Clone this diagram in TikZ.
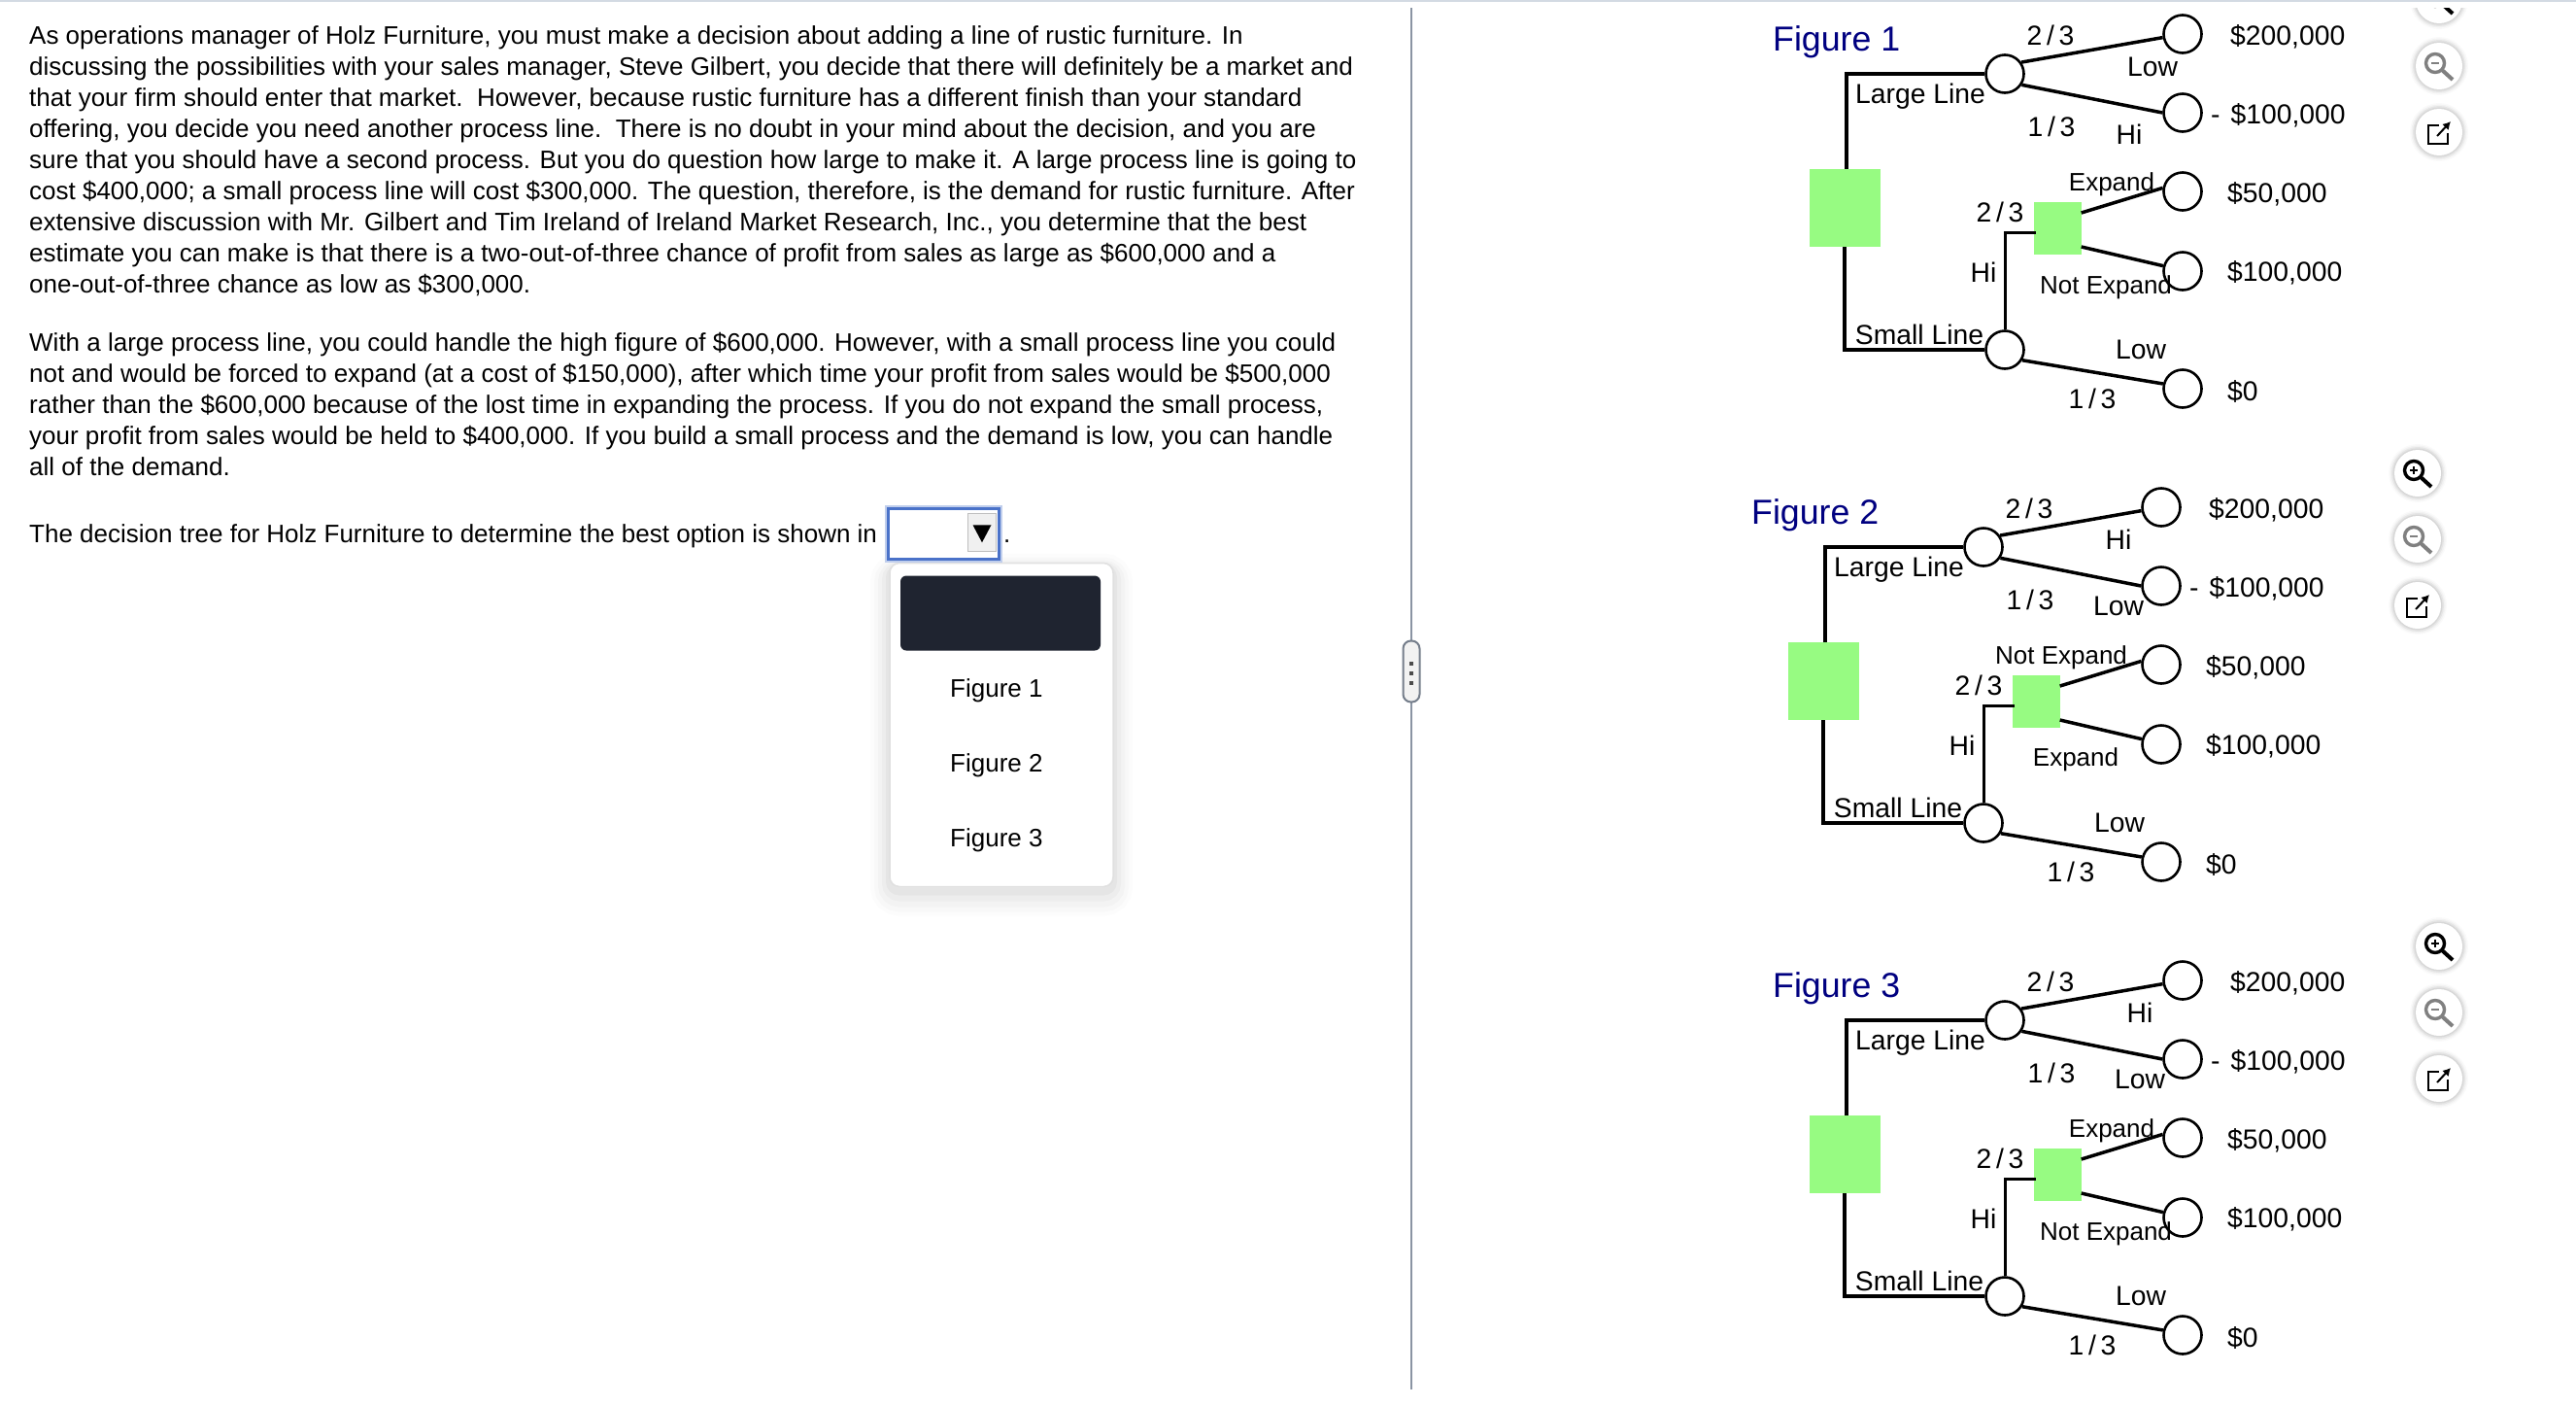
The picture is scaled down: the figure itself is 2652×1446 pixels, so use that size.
\documentclass[tikz,border=0pt]{standalone}
\usepackage{fontspec}
\setmainfont{Liberation Sans}
\usepackage{tikz}
\usetikzlibrary{
  arrows.meta,
  calc,
  shapes.geometric
}

\definecolor{treegreen}{HTML}{97FB82}
\definecolor{titleblue}{HTML}{000080}
\definecolor{selblue}{HTML}{4A72C9}
\definecolor{darkrow}{HTML}{1F2430}
\definecolor{divgray}{HTML}{8A94A3}
\definecolor{topgray}{HTML}{D3DAE3}

\begin{document}
\begin{tikzpicture}[x=1pt, y=-1pt]

\tikzset{
  body/.style={
    anchor=north west,
    inner sep=0pt,
    align=left,
    font=\fontsize{26}{32.05}\selectfont
  },
  menuitem/.style={
    anchor=west,
    inner sep=0pt,
    font=\fontsize{26}{30}\selectfont
  },
  figtitle/.style={
    anchor=west,
    inner sep=0pt,
    text=titleblue,
    font=\fontsize{35.7}{40}\selectfont
  },
  lbl/.style={
    inner sep=0pt,
    font=\fontsize{28.3}{32}\selectfont
  },
  lblsm/.style={
    inner sep=0pt,
    font=\fontsize{26}{32}\selectfont
  },
  val/.style={
    lbl,
    anchor=west
  },
  chance/.style={
    draw,
    circle,
    fill=white,
    line width=2.6pt,
    minimum size=39pt,
    inner sep=0pt
  },
  rootbox/.style={
    rectangle,
    fill=treegreen,
    minimum width=73pt,
    minimum height=80pt,
    inner sep=0pt
  },
  choicebox/.style={
    rectangle,
    fill=treegreen,
    minimum width=49pt,
    minimum height=54pt,
    inner sep=0pt
  },
  edge/.style={
    draw,
    line width=3.5pt
  },
  iconbtn/.style={
    circle,
    fill=white,
    minimum size=48pt,
    inner sep=0pt,
    preaction={draw=black, draw opacity=.02, line width=12pt},
    preaction={draw=black, draw opacity=.03, line width=9pt},
    preaction={draw=black, draw opacity=.05, line width=6pt},
    preaction={draw=black, draw opacity=.06, line width=3pt}
  },
  menubox/.style={
    draw=black!12,
    line width=1.5pt,
    fill=white,
    rounded corners=10pt,
    inner sep=0pt,
    preaction={draw=black, draw opacity=.012, line width=40pt, transform canvas={yshift=-10pt}},
    preaction={draw=black, draw opacity=.015, line width=32pt, transform canvas={yshift=-10pt}},
    preaction={draw=black, draw opacity=.02, line width=24pt, transform canvas={yshift=-9pt}},
    preaction={draw=black, draw opacity=.025, line width=16pt, transform canvas={yshift=-7pt}},
    preaction={draw=black, draw opacity=.03, line width=8pt, transform canvas={yshift=-5pt}}
  },
  lensin/.pic={
    \node[iconbtn] (btn) at (0,0) {};
    \draw[line width=3.4pt] (-4,-3) circle (9.5);
    \draw[line width=4pt] (3,4) -- (14,14);
    \draw[line width=1.6pt] (-8,-3) -- (0,-3) (-4,-7) -- (-4,1);
  },
  lensout/.pic={
    \node[iconbtn] (btn) at (0,0) {};
    \draw[gray, line width=3.4pt] (-4,-3) circle (9.5);
    \draw[gray, line width=4pt] (3,4) -- (14,14);
    \draw[gray, line width=1.6pt] (-8,-3) -- (0,-3);
  },
  popout/.pic={
    \node[iconbtn] (btn) at (0,0) {};
    \draw[line width=1.8pt] (0,-7) -- (-11,-7) -- (-11,12) -- (9,12) -- (9,1);
    \draw[-{Latex[length=8pt, width=9pt]}, line width=2pt] (-2,4) -- (12,-11);
  }
}

% Background
\path[fill=white, use as bounding box] (0,0) rectangle (2652,1446);
\fill[topgray] (0,0) rectangle (2652,2);

% Question text
\node[body] (parA) at (30,26) {As operations manager of Holz Furniture, you must make a decision about adding a line of rustic furniture. In\\
discussing the possibilities with your sales manager, Steve Gilbert, you decide that there will definitely be a market and\\
that your firm should enter that market.\ \ However, because rustic furniture has a different finish than your standard\\
offering, you decide you need another process line.\ \ There is no doubt in your mind about the decision, and you are\\
sure that you should have a second process. But you do question how large to make it. A large process line is going to\\
cost \$400,000; a small process line will cost \$300,000. The question, therefore, is the demand for rustic furniture. After\\
extensive discussion with Mr. Gilbert and Tim Ireland of Ireland Market Research, Inc., you determine that the best\\
estimate you can make is that there is a two-out-of-three chance of profit from sales as large as \$600,000 and a\\
one-out-of-three chance as low as \$300,000.};

\node[body] (parB) at (30,342) {With a large process line, you could handle the high figure of \$600,000. However, with a small process line you could\\
not and would be forced to expand (at a cost of \$150,000), after which time your profit from sales would be \$500,000\\
rather than the \$600,000 because of the lost time in expanding the process. If you do not expand the small process,\\
your profit from sales would be held to \$400,000. If you build a small process and the demand is low, you can handle\\
all of the demand.};

\node[body] (ask) at (30,539) {The decision tree for Holz Furniture to determine the best option is shown in};

% Menu
\node[menubox, minimum width=230pt, minimum height=333pt] (menu) at (1031,746) {};
\node[fill=darkrow, rounded corners=6pt, minimum width=206pt, minimum height=77pt, inner sep=0pt] (menutop) at (1030,631) {};
\node[menuitem] (item1) at (978,711) {Figure 1};
\node[menuitem] (item2) at (978,788) {Figure 2};
\node[menuitem] (item3) at (978,865) {Figure 3};

% Dropdown
\node[draw=selblue, line width=3pt, preaction={draw=selblue!35, line width=7pt}, fill=white, minimum width=114pt, minimum height=52pt, inner sep=0pt] (drop) at (971,549) {};
\node[draw=black!25, line width=1.5pt, fill=black!6, minimum width=29pt, minimum height=39pt, inner sep=0pt] (dropbtn) at (1011,548) {};
\node[isosceles triangle, isosceles triangle stretches, shape border rotate=270, fill=black, minimum width=19pt, minimum height=18pt, inner sep=0pt] (droptip) at (1011,546) {};
\node[body, anchor=base west] (dot) at (1033,558) {.};

% Divider
\coordinate (divtop) at (1453,8);
\coordinate (divbot) at (1453,1430);
\draw[divgray, line width=2.5pt] (divtop) -- (divbot);
\node[draw=divgray!85!black, line width=2pt, fill=black!5, rounded corners=8pt, minimum width=17pt, minimum height=63pt, inner sep=0pt] (handle) at (1453,691) {};
\fill[black!70] (1451,681) rectangle (1455,685);
\fill[black!70] (1451,691) rectangle (1455,695);
\fill[black!70] (1451,701) rectangle (1455,705);

% Icons Figure 1
\begin{scope}
\clip (2440,8) rectangle (2600,40);
\pic (inA) at (2511,0) {lensin};
\end{scope}
\pic (outA) at (2511,68) {lensout};
\pic (popA) at (2511,136) {popout};

% Icons Figure 2
\pic (inB) at (2489,487) {lensin};
\pic (outB) at (2489,555) {lensout};
\pic (popB) at (2489,623) {popout};

% Icons Figure 3
\pic (inC) at (2511,974) {lensin};
\pic (outC) at (2511,1042) {lensout};
\pic (popC) at (2511,1110) {popout};

% Figure 1
\begin{scope}
% Nodes
\node[rootbox] (rootA) at (1899,214) {};
\node[choicebox] (boxA) at (2118,235) {};
\node[chance] (largeA) at (2064,76) {};
\node[chance] (smallA) at (2064,360) {};
\node[chance] (endA1) at (2247,35) {};
\node[chance] (endA2) at (2247,116) {};
\node[chance] (endA3) at (2247,197) {};
\node[chance] (endA4) at (2247,279) {};
\node[chance] (endA5) at (2247,400) {};

% Edges
\draw[edge] ($(rootA.north)+(2,0)$) |- (largeA.west);
\draw[edge] (rootA.south) |- (smallA.west);
\draw[edge] (largeA.35) -- (endA1.190);
\draw[edge] (largeA.-33) -- (endA2.180);
\draw[edge] (smallA.-31) -- (endA5.166);
\draw[edge] ($(boxA.east)+(0,-16)$) -- (endA3.170);
\draw[edge] ($(boxA.east)+(0,19)$) -- (endA4.165);
\draw[edge, line width=3pt] (smallA.north) |- ($(boxA.west)+(3,4)$);

% Labels
\node[figtitle] (titleA) at (1825,43) {Figure 1};
\node[lbl] (topA) at (2111,36) {2\,/\,3};
\node[lbl] (hiA) at (2216,69) {Low};
\node[lbl] (largelblA) at (1977,99) {Large Line};
\node[lbl] (botA) at (2112,130) {1\,/\,3};
\node[lbl] (loA) at (2192,138) {Hi};
\node[lblsm] (expA) at (2174,190) {Expand};
\node[lbl] (midA) at (2059,218) {2\,/\,3};
\node[lbl] (hismallA) at (2042,280) {Hi};
\node[lblsm] (noexpA) at (2168,296) {Not Expand};
\node[lbl] (smalllblA) at (1976,344) {Small Line};
\node[lbl] (losmallA) at (2204,360) {Low};
\node[lbl] (lowA) at (2154,410) {1\,/\,3};
\node[val] (valA1) at (2296,38) {\$200,000};
\node[val] (valA2) at (2276,119) {-\hspace{11pt}\$100,000};
\node[val] (valA3) at (2293,200) {\$50,000};
\node[val] (valA4) at (2293,281) {\$100,000};
\node[val] (valA5) at (2293,403) {\$0};
\end{scope}

% Figure 2
\begin{scope}[shift={(-22,487)}]
% Nodes
\node[rootbox] (rootB) at (1899,214) {};
\node[choicebox] (boxB) at (2118,235) {};
\node[chance] (largeB) at (2064,76) {};
\node[chance] (smallB) at (2064,360) {};
\node[chance] (endB1) at (2247,35) {};
\node[chance] (endB2) at (2247,116) {};
\node[chance] (endB3) at (2247,197) {};
\node[chance] (endB4) at (2247,279) {};
\node[chance] (endB5) at (2247,400) {};

% Edges
\draw[edge] ($(rootB.north)+(2,0)$) |- (largeB.west);
\draw[edge] (rootB.south) |- (smallB.west);
\draw[edge] (largeB.35) -- (endB1.190);
\draw[edge] (largeB.-33) -- (endB2.180);
\draw[edge] (smallB.-31) -- (endB5.166);
\draw[edge] ($(boxB.east)+(0,-16)$) -- (endB3.170);
\draw[edge] ($(boxB.east)+(0,19)$) -- (endB4.165);
\draw[edge, line width=3pt] (smallB.north) |- ($(boxB.west)+(3,4)$);

% Labels
\node[figtitle] (titleB) at (1825,43) {Figure 2};
\node[lbl] (topB) at (2111,36) {2\,/\,3};
\node[lbl] (hiB) at (2203,68) {Hi};
\node[lbl] (largelblB) at (1977,99) {Large Line};
\node[lbl] (botB) at (2112,130) {1\,/\,3};
\node[lbl] (loB) at (2203,137) {Low};
\node[lblsm] (expB) at (2144,190) {Not Expand};
\node[lbl] (midB) at (2059,218) {2\,/\,3};
\node[lbl] (hismallB) at (2042,280) {Hi};
\node[lblsm] (noexpB) at (2159,295) {Expand};
\node[lbl] (smalllblB) at (1976,344) {Small Line};
\node[lbl] (losmallB) at (2204,360) {Low};
\node[lbl] (lowB) at (2154,410) {1\,/\,3};
\node[val] (valB1) at (2296,38) {\$200,000};
\node[val] (valB2) at (2276,119) {-\hspace{11pt}\$100,000};
\node[val] (valB3) at (2293,200) {\$50,000};
\node[val] (valB4) at (2293,281) {\$100,000};
\node[val] (valB5) at (2293,403) {\$0};
\end{scope}

% Figure 3
\begin{scope}[shift={(0,974)}]
% Nodes
\node[rootbox] (rootC) at (1899,214) {};
\node[choicebox] (boxC) at (2118,235) {};
\node[chance] (largeC) at (2064,76) {};
\node[chance] (smallC) at (2064,360) {};
\node[chance] (endC1) at (2247,35) {};
\node[chance] (endC2) at (2247,116) {};
\node[chance] (endC3) at (2247,197) {};
\node[chance] (endC4) at (2247,279) {};
\node[chance] (endC5) at (2247,400) {};

% Edges
\draw[edge] ($(rootC.north)+(2,0)$) |- (largeC.west);
\draw[edge] (rootC.south) |- (smallC.west);
\draw[edge] (largeC.35) -- (endC1.190);
\draw[edge] (largeC.-33) -- (endC2.180);
\draw[edge] (smallC.-31) -- (endC5.166);
\draw[edge] ($(boxC.east)+(0,-16)$) -- (endC3.170);
\draw[edge] ($(boxC.east)+(0,19)$) -- (endC4.165);
\draw[edge, line width=3pt] (smallC.north) |- ($(boxC.west)+(3,4)$);

% Labels
\node[figtitle] (titleC) at (1825,43) {Figure 3};
\node[lbl] (topC) at (2111,36) {2\,/\,3};
\node[lbl] (hiC) at (2203,68) {Hi};
\node[lbl] (largelblC) at (1977,99) {Large Line};
\node[lbl] (botC) at (2112,130) {1\,/\,3};
\node[lbl] (loC) at (2203,137) {Low};
\node[lblsm] (expC) at (2174,190) {Expand};
\node[lbl] (midC) at (2059,218) {2\,/\,3};
\node[lbl] (hismallC) at (2042,280) {Hi};
\node[lblsm] (noexpC) at (2168,296) {Not Expand};
\node[lbl] (smalllblC) at (1976,344) {Small Line};
\node[lbl] (losmallC) at (2204,360) {Low};
\node[lbl] (lowC) at (2154,410) {1\,/\,3};
\node[val] (valC1) at (2296,38) {\$200,000};
\node[val] (valC2) at (2276,119) {-\hspace{11pt}\$100,000};
\node[val] (valC3) at (2293,200) {\$50,000};
\node[val] (valC4) at (2293,281) {\$100,000};
\node[val] (valC5) at (2293,403) {\$0};
\end{scope}

\end{tikzpicture}
\end{document}
